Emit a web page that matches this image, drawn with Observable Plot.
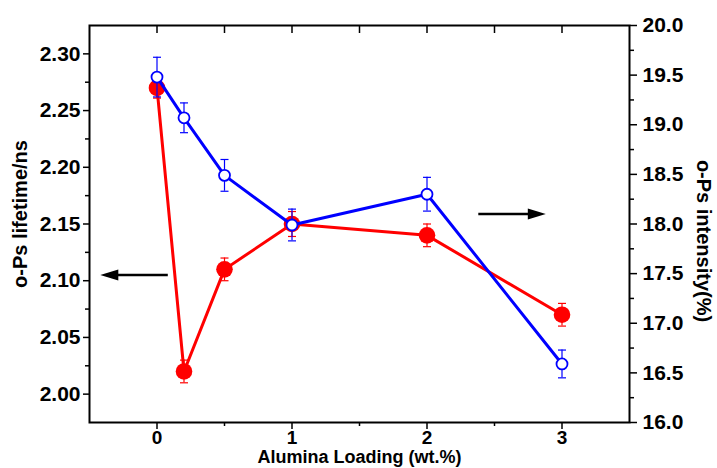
<!DOCTYPE html>
<html><head><meta charset="utf-8">
<script src="https://cdn.jsdelivr.net/npm/d3@7"></script>
<script src="https://cdn.jsdelivr.net/npm/@observablehq/plot@0.6"></script>
<style>body{margin:0;background:#fff}</style>
</head><body><div id="chart"></div>
<script>
// ---- data ----
const loading = [0, 0.2, 0.5, 1, 2, 3];
const lifetime = [2.27, 2.02, 2.11, 2.15, 2.14, 2.07];
const lifetimeErr = [0.009, 0.01, 0.01, 0.011, 0.01, 0.01];
const intensity = [19.48, 19.07, 18.49, 17.99, 18.30, 16.59];
const intensityErr = [0.2, 0.15, 0.16, 0.16, 0.17, 0.14];

const xTicks = [0, 1, 2, 3];
const xMinorTicks = [0.5, 1.5, 2.5];
const xTopTicks = [0, 0.5, 1, 1.5, 2, 2.5, 3];
const leftTicks = [2.00, 2.05, 2.10, 2.15, 2.20, 2.25, 2.30];
const leftMinorTicks = [2.025, 2.075, 2.125, 2.175, 2.225, 2.275];
const rightTicks = [16.0, 16.5, 17.0, 17.5, 18.0, 18.5, 19.0, 19.5, 20.0];
const rightMinorTicks = [16.25, 16.75, 17.25, 17.75, 18.25, 18.75, 19.25, 19.75];

const xDomain = [-0.5, 3.5];
const leftDomain = [1.975, 2.325];
const rightDomain = [16, 20];

const leftArrow = {x1: 0.08, x2: -0.42, y: 2.105};
const rightArrow = {x1: 2.38, x2: 2.88, y: 18.1};

const xLabel = "Alumina Loading (wt.%)";
const leftLabel = "o-Ps lifetime/ns";
const rightLabel = "o-Ps intensity(%)";

// ---- dual axis mapping ----
const toY = v => leftDomain[0] + (v - rightDomain[0]) / (rightDomain[1] - rightDomain[0]) * (leftDomain[1] - leftDomain[0]);
const fromY = y => rightDomain[0] + (y - leftDomain[0]) / (leftDomain[1] - leftDomain[0]) * (rightDomain[1] - rightDomain[0]);

const red = loading.map((x, i) => ({x, y: lifetime[i], lo: lifetime[i] - lifetimeErr[i], hi: lifetime[i] + lifetimeErr[i]}));
const blue = loading.map((x, i) => ({x, y: toY(intensity[i]), lo: toY(intensity[i] - intensityErr[i]), hi: toY(intensity[i] + intensityErr[i])}));

const cap = {draw(ctx) { ctx.moveTo(-4, 0); ctx.lineTo(4, 0); }};
const head = {draw(ctx) { ctx.moveTo(0, 0); ctx.lineTo(-18, -5.5); ctx.lineTo(-18, 5.5); ctx.closePath(); }};

const arrows = [
  {x1: leftArrow.x1, x2: leftArrow.x2, y: leftArrow.y, rot: 180},
  {x1: rightArrow.x1, x2: rightArrow.x2, y: toY(rightArrow.y), rot: 0}
];

function errorMarks(data, color) {
  return [
    Plot.ruleX(data, {x: "x", y1: "lo", y2: "hi", stroke: color, strokeWidth: 1.2}),
    Plot.dot(data, {x: "x", y: "lo", symbol: cap, stroke: color, strokeWidth: 1.2, fill: "none"}),
    Plot.dot(data, {x: "x", y: "hi", symbol: cap, stroke: color, strokeWidth: 1.2, fill: "none"})
  ];
}

const font = {fontSize: 21, fontWeight: "bold"};

const chart = Plot.plot({
  width: 717,
  height: 468,
  marginLeft: 89,
  marginRight: 88,
  marginTop: 25,
  marginBottom: 46,
  style: {fontFamily: "Liberation Sans, Arial, sans-serif", fontSize: "21px", fontWeight: "bold", color: "black", background: "white"},
  x: {domain: xDomain},
  y: {domain: leftDomain},
  marks: [
    // axes
    Plot.axisX(xTicks, {anchor: "bottom", tickSize: 7, tickPadding: 1, tickFormat: d => String(d), label: null, strokeWidth: 1.5, fontSize: 19, fontWeight: "bold"}),
    Plot.axisX(xMinorTicks, {anchor: "bottom", tickSize: 4, tickFormat: () => "", label: null, strokeWidth: 1.5}),
    Plot.axisX(xTopTicks, {anchor: "top", tickSize: -7, tickFormat: () => "", label: null, strokeWidth: 1.5}),
    Plot.axisY(leftTicks, {anchor: "left", tickSize: 6, tickPadding: 3, tickFormat: d => d.toFixed(2), label: null, strokeWidth: 1.5, ...font}),
    Plot.axisY(leftMinorTicks, {anchor: "left", tickSize: 4, tickFormat: () => "", label: null, strokeWidth: 1.5}),
    Plot.axisY(rightTicks.map(toY), {anchor: "right", tickSize: 7, tickPadding: 6, tickFormat: d => fromY(d).toFixed(1), label: null, strokeWidth: 1.5, ...font}),
    Plot.axisY(rightMinorTicks.map(toY), {anchor: "right", tickSize: 4, tickFormat: () => "", label: null, strokeWidth: 1.5}),
    Plot.frame({stroke: "black", strokeWidth: 2}),
    // axis titles
    Plot.text([xLabel], {text: d => d, frameAnchor: "bottom", dy: 40, fontSize: 18, fontWeight: "bold", letterSpacing: "-0.3px"}),
    Plot.text([leftLabel], {text: d => d, frameAnchor: "left", textAnchor: "middle", dx: -69, dy: -10, rotate: -90, fontSize: 20, fontWeight: "bold"}),
    Plot.text([rightLabel], {text: d => d, frameAnchor: "right", textAnchor: "middle", dx: 74, dy: 17, rotate: 90, fontSize: 20, fontWeight: "bold"}),
    // arrows
    Plot.arrow(arrows, {x1: "x1", x2: "x2", y1: "y", y2: "y", stroke: "black", strokeWidth: 2.5, headLength: 0, insetEnd: 12, strokeLinecap: "butt"}),
    Plot.dot(arrows, {x: "x2", y: "y", symbol: head, fill: "black", stroke: "none", rotate: "rot"}),
    // red series
    Plot.line(red, {x: "x", y: "y", stroke: "#ff0000", strokeWidth: 3}),
    ...errorMarks(red, "#ff0000"),
    Plot.dot(red, {x: "x", y: "y", r: 8.3, fill: "#ff0000", stroke: "none"}),
    // blue series
    Plot.line(blue, {x: "x", y: "y", stroke: "#0000ff", strokeWidth: 3}),
    ...errorMarks(blue, "#0000ff"),
    Plot.dot(blue, {x: "x", y: "y", r: 5.5, fill: "white", stroke: "#0000ff", strokeWidth: 1.8})
  ]
});
document.getElementById("chart").appendChild(chart);
</script>
</body></html>
